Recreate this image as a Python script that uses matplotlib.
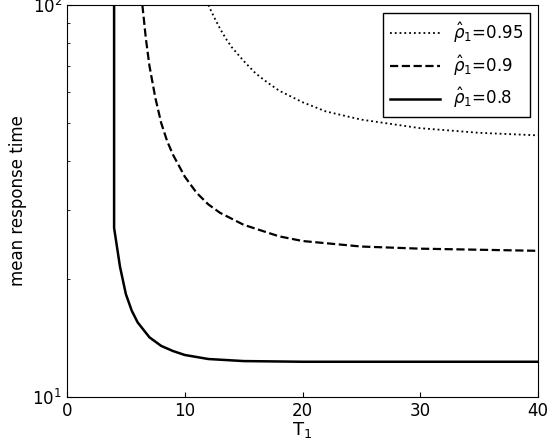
import matplotlib
matplotlib.use("Agg")
import matplotlib.pyplot as plt
from matplotlib.ticker import NullFormatter, LogFormatterMathtext

x_95 = [12.0, 12.5, 13, 13.5, 14, 15, 16, 17, 18, 20, 22, 25, 30, 35, 40]
y_95 = [100, 93, 87, 82, 78, 72, 67, 63.5, 60.5, 56.5, 53.5, 51, 48.5, 47.2, 46.5]
x_90 = [6.4, 6.7, 7, 7.5, 8, 8.5, 9, 10, 11, 12, 13, 15, 18, 20, 25, 30, 40]
y_90 = [100, 82, 70, 58, 50, 45, 41.5, 36.5, 33.2, 31, 29.5, 27.5, 25.7, 25.0, 24.2, 23.9, 23.6]
x_80 = [4.0, 4.0, 4.5, 5, 5.5, 6, 7, 8, 9, 10, 12, 15, 20, 30, 40]
y_80 = [100, 27, 21.5, 18.3, 16.6, 15.5, 14.2, 13.5, 13.1, 12.8, 12.5, 12.35, 12.3, 12.3, 12.3]

fig = plt.figure(figsize=(5.56, 4.47), dpi=100)
ax = fig.add_axes([67/556, 50/447, 471/556, 392/447])
ax.semilogy(x_95, y_95, 'k:', lw=1.3, label=r'$\hat{\rho}_1$=0.95')
ax.semilogy(x_90, y_90, 'k--', lw=1.6, label=r'$\hat{\rho}_1$=0.9')
ax.semilogy(x_80, y_80, 'k-', lw=1.8, label=r'$\hat{\rho}_1$=0.8')
ax.set_xlim(0, 40)
ax.set_ylim(10, 100)
ax.set_xticks([0, 10, 20, 30, 40])
ax.yaxis.set_minor_formatter(NullFormatter())
ax.yaxis.set_major_formatter(LogFormatterMathtext())
ax.tick_params(labelsize=12, direction='in', which='both')
ax.set_xlabel(r'T$_1$', fontsize=13, labelpad=0)
ax.set_ylabel('mean response time', fontsize=12)
ax.legend(loc='upper right', fontsize=12, fancybox=False, edgecolor='k', framealpha=1, handlelength=3)
fig.savefig('out.png', dpi=100)
